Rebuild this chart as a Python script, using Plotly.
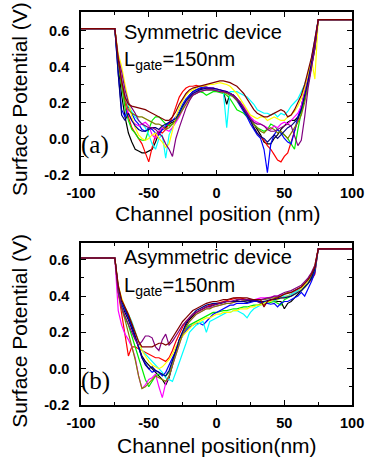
import plotly.graph_objects as go

# Channel positions (nm) shared by every potential profile
X_NM = [-100, -75, -72.5, -70, -67.5, -65, -62.5, -60, -57.5, -55, -52.5, -50,
        -47.5, -45, -42.5, -40, -37.5, -35, -32.5, -30, -27.5, -25, -22.5, -20,
        -17.5, -15, -12.5, -10, -7.5, -5, -2.5, 0, 2.5, 5, 7.5, 10, 12.5, 15,
        17.5, 20, 22.5, 25, 27.5, 30, 32.5, 35, 37.5, 40, 42.5, 45, 47.5, 50,
        52.5, 55, 57.5, 60, 62.5, 65, 67.5, 70, 72.5, 75, 100]

# Source / drain contact potentials (V)
SOURCE_LEVEL = 0.61
DRAIN_LEVEL = 0.66

SERIES_NAMES = ["black", "red", "green", "blue", "cyan", "magenta", "yellow",
                "olive", "navy", "purple", "wine"]
SERIES_COLORS = ["#000000", "#ff0000", "#00ee00", "#0000ff", "#00ffff", "#ff00ff",
                 "#ffff00", "#808000", "#000080", "#800080", "#800000"]

# Symmetric device, potential between -72.5 nm and 72.5 nm (V)
SYM_BLACK = [0.4, 0.24, 0.12, 0.03, -0.02, -0.06,
             -0.07, -0.08, -0.08, -0.07, -0.06, -0.02, 0.03, 0.05, 0.06, 0.08, 0.09, 0.1,
             0.13, 0.17, 0.21, 0.24, 0.26, 0.27, 0.275, 0.28, 0.28, 0.28, 0.275, 0.27,
             0.265, 0.26, 0.19, 0.25, 0.24, 0.22, 0.2, 0.17, 0.14, 0.11, 0.08,
             0.05, 0.02, -0.02, -0.03, -0.03, 0.0, 0.02, 0.05, 0.07, 0.09, 0.1, 0.1, 0.12,
             0.15, 0.22, 0.3, 0.4, 0.5]
SYM_RED = [0.44, 0.32, 0.2, 0.12, 0.06, 0.03,
           0.0, -0.03, -0.08, -0.13, -0.05, 0.02, 0.04, 0.03, 0.05, 0.08, 0.12, 0.18,
           0.23, 0.26, 0.28, 0.29, 0.29, 0.295, 0.29, 0.29, 0.285, 0.28, 0.27, 0.27,
           0.26, 0.26, 0.255, 0.25, 0.24, 0.22, 0.2, 0.17, 0.14, 0.1, 0.06,
           0.03, 0.01, -0.01, -0.04, -0.06, -0.09, -0.12, -0.13, -0.1, -0.08, -0.02, 0.05, 0.1,
           0.18, 0.25, 0.33, 0.42, 0.52]
SYM_GREEN = [0.42, 0.3, 0.17, 0.1, 0.05, 0.03,
             0.0, -0.01, -0.01, 0.05, 0.1, 0.12, 0.12, 0.1, 0.08, 0.07, 0.08, 0.1,
             0.13, 0.17, 0.2, 0.23, 0.25, 0.26, 0.26, 0.255, 0.24, 0.25, 0.26, 0.26,
             0.255, 0.25, 0.24, 0.22, 0.19, 0.16, 0.15, 0.14, 0.12, 0.1, 0.08,
             0.06, 0.05, 0.04, 0.05, 0.08, 0.07, 0.05, 0.03, 0.02, 0.0, -0.03, -0.06, 0.05,
             0.15, 0.24, 0.32, 0.42, 0.52]
SYM_BLUE = [0.36, 0.16, 0.12, 0.18, 0.14, 0.1,
            0.08, 0.05, 0.04, 0.06, 0.05, 0.03, 0.02, 0.05, 0.07, 0.09, 0.1, 0.12,
            0.15, 0.19, 0.22, 0.24, 0.26, 0.27, 0.28, 0.285, 0.285, 0.28, 0.28, 0.275,
            0.27, 0.26, 0.26, 0.25, 0.23, 0.21, 0.18, 0.15, 0.12, 0.08, 0.05,
            0.02, 0.0, -0.06, -0.19, -0.03, 0.02, 0.05, 0.03, 0.0, -0.02, -0.03, 0.04, 0.12,
            0.18, 0.26, 0.34, 0.44, 0.54]
SYM_CYAN = [0.4, 0.33, 0.24, 0.18, 0.15, 0.12,
            0.1, 0.08, 0.06, 0.02, -0.03, -0.06, 0.0, 0.02, -0.11, 0.02, 0.06, 0.1,
            0.14, 0.18, 0.21, 0.23, 0.25, 0.26, 0.27, 0.27, 0.27, 0.27, 0.27, 0.27,
            0.265, 0.26, 0.06, 0.26, 0.26, 0.26, 0.25, 0.24, 0.23, 0.21, 0.19,
            0.16, 0.15, 0.14, 0.14, 0.13, 0.14, 0.12, 0.14, 0.13, 0.15, 0.18, 0.2, 0.22,
            0.26, 0.3, 0.36, 0.44, 0.54]
SYM_MAGENTA = [0.42, 0.32, 0.22, 0.14, 0.1, 0.08,
               0.07, 0.08, 0.09, 0.07, 0.02, 0.0, 0.04, 0.06, 0.05, 0.04, 0.06, 0.09,
               0.12, 0.16, 0.2, 0.23, 0.25, 0.26, 0.27, 0.275, 0.28, 0.28, 0.28, 0.275,
               0.27, 0.265, 0.26, 0.25, 0.24, 0.22, 0.2, 0.18, 0.15, 0.12, 0.1,
               0.09, 0.08, 0.07, 0.06, 0.05, 0.07, 0.06, 0.08, 0.09, 0.08, 0.1, 0.12, 0.14,
               0.18, 0.25, 0.33, 0.42, 0.52]
SYM_YELLOW = [0.47, 0.4, 0.3, 0.2, 0.12, 0.06,
              0.02, 0.0, -0.01, 0.0, 0.02, 0.03, 0.0, -0.02, -0.05, -0.03, 0.05, 0.12,
              0.17, 0.21, 0.24, 0.26, 0.27, 0.28, 0.29, 0.29, 0.295, 0.3, 0.3, 0.305,
              0.31, 0.305, 0.3, 0.29, 0.27, 0.25, 0.22, 0.19, 0.16, 0.13, 0.12,
              0.11, 0.12, 0.12, 0.1, 0.11, 0.12, 0.11, 0.1, 0.1, 0.12, 0.13, 0.15, 0.18,
              0.22, 0.28, 0.36, 0.44, 0.33]
SYM_OLIVE = [0.42, 0.3, 0.21, 0.16, 0.14, 0.13,
             0.12, 0.12, 0.11, 0.1, 0.09, 0.08, 0.08, 0.07, 0.05, 0.06, 0.08, 0.1,
             0.13, 0.16, 0.19, 0.22, 0.24, 0.25, 0.26, 0.265, 0.27, 0.27, 0.27, 0.265,
             0.26, 0.255, 0.25, 0.24, 0.23, 0.21, 0.19, 0.16, 0.13, 0.1, 0.08,
             0.06, 0.04, 0.03, 0.05, 0.06, 0.05, 0.03, 0.04, 0.02, 0.0, 0.03, 0.06, 0.09,
             0.13, 0.2, 0.3, 0.4, 0.5]
SYM_NAVY = [0.36, 0.13, 0.1, 0.14, 0.1, 0.07,
            0.05, 0.04, 0.04, 0.05, 0.06, 0.06, 0.05, 0.07, 0.08, 0.09, 0.1, 0.11,
            0.14, 0.18, 0.21, 0.23, 0.25, 0.26, 0.27, 0.275, 0.28, 0.28, 0.28, 0.275,
            0.27, 0.265, 0.26, 0.25, 0.24, 0.22, 0.19, 0.16, 0.13, 0.1, 0.06,
            0.03, 0.01, 0.0, -0.02, 0.0, 0.02, 0.0, 0.02, 0.04, 0.06, 0.07, 0.09, 0.11,
            0.16, 0.24, 0.32, 0.42, 0.52]
SYM_PURPLE = [0.45, 0.37, 0.27, 0.2, 0.17, 0.14,
              0.1, 0.08, 0.07, 0.06, 0.06, 0.05, 0.03, 0.01, -0.03, -0.06, -0.1, 0.0,
              0.06, 0.12, 0.17, 0.21, 0.24, 0.25, 0.26, 0.265, 0.27, 0.27, 0.27, 0.265,
              0.26, 0.26, 0.255, 0.25, 0.24, 0.22, 0.2, 0.17, 0.14, 0.11, 0.09,
              0.08, 0.08, 0.07, 0.05, 0.04, 0.04, 0.05, 0.06, 0.07, 0.08, 0.07, 0.02, -0.04,
              -0.01, 0.12, 0.28, 0.4, 0.5]
SYM_WINE = [0.44, 0.32, 0.23, 0.19, 0.18, 0.175,
            0.17, 0.165, 0.16, 0.15, 0.14, 0.13, 0.12, 0.11, 0.1, 0.1, 0.12, 0.15,
            0.19, 0.22, 0.25, 0.27, 0.28, 0.285, 0.29, 0.295, 0.3, 0.305, 0.31, 0.315,
            0.32, 0.32, 0.315, 0.31, 0.3, 0.29, 0.27, 0.25, 0.22, 0.19, 0.16,
            0.14, 0.13, 0.12, 0.12, 0.13, 0.14, 0.15, 0.16, 0.15, 0.12, 0.13, 0.16, 0.2,
            0.24, 0.3, 0.37, 0.45, 0.55]

# Asymmetric device, potential between -72.5 nm and 72.5 nm (V)
ASYM_BLACK = [0.44, 0.36, 0.31, 0.27, 0.22, 0.17, 0.12, 0.07, 0.04, 0.02, 0.0, -0.02,
              -0.04, -0.06, -0.09, -0.05, 0.02, 0.1,
              0.16, 0.2, 0.24, 0.27, 0.29, 0.31, 0.32, 0.33, 0.34, 0.345, 0.35, 0.355,
              0.36, 0.365, 0.37, 0.37, 0.37, 0.375, 0.37, 0.37, 0.365, 0.37, 0.37,
              0.37, 0.37, 0.365, 0.37, 0.37, 0.375, 0.37, 0.37, 0.33, 0.36, 0.37, 0.39,
              0.41, 0.43, 0.45, 0.47, 0.5, 0.55]
ASYM_RED = [0.42, 0.3, 0.2, 0.07, 0.12, 0.12, 0.11, 0.1, 0.09, 0.08, 0.07, 0.06,
            0.06, 0.05, 0.04, 0.06, 0.1, 0.15,
            0.19, 0.23, 0.26, 0.28, 0.3, 0.31, 0.32, 0.33, 0.34, 0.35, 0.355, 0.36,
            0.365, 0.37, 0.375, 0.38, 0.385, 0.39, 0.39, 0.385, 0.38, 0.375, 0.37,
            0.37, 0.36, 0.35, 0.37, 0.375, 0.38, 0.385, 0.39, 0.395, 0.4, 0.41, 0.42,
            0.43, 0.44, 0.45, 0.47, 0.49, 0.52]
ASYM_GREEN = [0.43, 0.34, 0.28, 0.24, 0.18, 0.12, 0.06, 0.0, -0.06, -0.1, -0.07, -0.04,
              -0.03, -0.03, -0.04, -0.02, 0.03, 0.09,
              0.15, 0.19, 0.22, 0.24, 0.25, 0.26, 0.27, 0.28, 0.29, 0.3, 0.31, 0.31,
              0.315, 0.32, 0.32, 0.325, 0.33, 0.33, 0.335, 0.34, 0.34, 0.345, 0.35,
              0.35, 0.355, 0.36, 0.36, 0.365, 0.37, 0.36, 0.35, 0.38, 0.39, 0.4, 0.41,
              0.42, 0.43, 0.45, 0.47, 0.5, 0.54]
ASYM_BLUE = [0.44, 0.36, 0.32, 0.28, 0.23, 0.17, 0.11, 0.06, 0.03, 0.0, -0.02, -0.01,
             -0.02, -0.04, -0.02, 0.02, 0.06, 0.1,
             0.15, 0.18, 0.21, 0.23, 0.24, 0.25, 0.25, 0.24, 0.26, 0.28, 0.3, 0.31,
             0.32, 0.33, 0.34, 0.35, 0.35, 0.36, 0.36, 0.36, 0.36, 0.365, 0.37,
             0.37, 0.365, 0.36, 0.36, 0.355, 0.36, 0.34, 0.36, 0.37, 0.37, 0.38, 0.39,
             0.4, 0.42, 0.4, 0.44, 0.48, 0.53]
ASYM_CYAN = [0.43, 0.37, 0.33, 0.3, 0.26, 0.2, 0.15, 0.1, 0.08, 0.06, 0.04, 0.02,
             0.0, -0.02, -0.05, -0.06, -0.07, -0.02,
             0.03, 0.08, 0.14, 0.2, 0.22, 0.24, 0.25, 0.26, 0.2, 0.26, 0.27, 0.28,
             0.29, 0.3, 0.31, 0.31, 0.32, 0.32, 0.31, 0.3, 0.28, 0.31, 0.33,
             0.34, 0.35, 0.36, 0.37, 0.37, 0.375, 0.38, 0.39, 0.4, 0.4, 0.41, 0.42,
             0.43, 0.44, 0.46, 0.48, 0.51, 0.55]
ASYM_MAGENTA = [0.32, 0.24, 0.19, 0.16, 0.12, 0.06, -0.04, -0.11, -0.09, -0.06, -0.05, -0.03,
                -0.1, -0.16, -0.08, -0.04, 0.02, 0.08,
                0.14, 0.19, 0.23, 0.26, 0.28, 0.3, 0.31, 0.32, 0.33, 0.335, 0.34, 0.345,
                0.35, 0.355, 0.36, 0.36, 0.365, 0.37, 0.37, 0.375, 0.38, 0.38, 0.38,
                0.385, 0.39, 0.39, 0.39, 0.395, 0.4, 0.4, 0.41, 0.41, 0.42, 0.42, 0.43,
                0.44, 0.45, 0.47, 0.49, 0.52, 0.56]
ASYM_YELLOW = [0.46, 0.39, 0.34, 0.3, 0.25, 0.2, 0.15, 0.1, 0.07, 0.04, 0.02, 0.01,
               0.0, 0.01, 0.03, 0.05, 0.08, 0.12,
               0.15, 0.18, 0.2, 0.22, 0.24, 0.25, 0.26, 0.27, 0.28, 0.28, 0.29, 0.3,
               0.3, 0.31, 0.31, 0.31, 0.32, 0.32, 0.33, 0.33, 0.33, 0.34, 0.34,
               0.35, 0.35, 0.36, 0.37, 0.37, 0.38, 0.38, 0.39, 0.39, 0.4, 0.4, 0.41,
               0.42, 0.44, 0.46, 0.48, 0.52, 0.57]
ASYM_OLIVE = [0.42, 0.33, 0.27, 0.2, 0.13, 0.05, -0.04, -0.11, -0.1, -0.08, -0.06, -0.04,
              -0.05, -0.06, -0.07, -0.04, 0.02, 0.08,
              0.14, 0.19, 0.23, 0.26, 0.28, 0.3, 0.31, 0.32, 0.33, 0.33, 0.34, 0.345,
              0.35, 0.355, 0.36, 0.36, 0.365, 0.37, 0.37, 0.375, 0.375, 0.38, 0.38,
              0.38, 0.38, 0.38, 0.385, 0.39, 0.39, 0.395, 0.4, 0.41, 0.42, 0.42, 0.43,
              0.44, 0.45, 0.47, 0.49, 0.51, 0.55]
ASYM_NAVY = [0.45, 0.37, 0.33, 0.29, 0.24, 0.18, 0.12, 0.06, 0.02, 0.0, 0.01, -0.01,
             -0.02, -0.03, -0.04, -0.01, 0.04, 0.1,
             0.16, 0.21, 0.25, 0.28, 0.3, 0.32, 0.33, 0.34, 0.35, 0.355, 0.36, 0.36,
             0.36, 0.365, 0.37, 0.37, 0.37, 0.37, 0.37, 0.37, 0.375, 0.375, 0.375,
             0.375, 0.37, 0.37, 0.375, 0.38, 0.38, 0.385, 0.39, 0.39, 0.395, 0.4, 0.41,
             0.42, 0.43, 0.45, 0.47, 0.5, 0.55]
ASYM_PURPLE = [0.42, 0.34, 0.29, 0.24, 0.2, 0.16, 0.13, 0.15, 0.18, 0.18, 0.17, 0.12,
               0.1, 0.16, 0.19, 0.13, 0.15, 0.18,
               0.21, 0.24, 0.26, 0.28, 0.3, 0.31, 0.32, 0.33, 0.34, 0.34, 0.35, 0.355,
               0.36, 0.365, 0.37, 0.37, 0.375, 0.38, 0.38, 0.38, 0.38, 0.38, 0.38,
               0.38, 0.38, 0.385, 0.39, 0.39, 0.4, 0.4, 0.41, 0.42, 0.425, 0.43, 0.44,
               0.45, 0.46, 0.48, 0.5, 0.53, 0.57]
ASYM_WINE = [0.46, 0.38, 0.34, 0.3, 0.25, 0.2, 0.15, 0.12, 0.12, 0.12, 0.12, 0.13,
             0.14, 0.14, 0.13, 0.14, 0.17, 0.2,
             0.23, 0.26, 0.28, 0.3, 0.32, 0.33, 0.34, 0.35, 0.36, 0.365, 0.37, 0.37,
             0.375, 0.38, 0.38, 0.385, 0.39, 0.39, 0.39, 0.39, 0.39, 0.385, 0.38,
             0.38, 0.38, 0.34, 0.37, 0.38, 0.385, 0.39, 0.4, 0.41, 0.415, 0.42, 0.43,
             0.44, 0.45, 0.47, 0.49, 0.52, 0.56]

SYM_SERIES = [SYM_BLACK, SYM_RED, SYM_GREEN, SYM_BLUE, SYM_CYAN, SYM_MAGENTA,
              SYM_YELLOW, SYM_OLIVE, SYM_NAVY, SYM_PURPLE, SYM_WINE]
ASYM_SERIES = [ASYM_BLACK, ASYM_RED, ASYM_GREEN, ASYM_BLUE, ASYM_CYAN, ASYM_MAGENTA,
               ASYM_YELLOW, ASYM_OLIVE, ASYM_NAVY, ASYM_PURPLE, ASYM_WINE]

X_TICKS = [-100, -50, 0, 50, 100]
X_TICK_TEXT = ["-100", "-50", "0", "50", "100"]
Y_TICKS = [-0.2, 0.0, 0.2, 0.4, 0.6]
Y_TICK_TEXT = ["-0.2", "0.0", "0.2", "0.4", "0.6"]

W, H = 379, 467
SANS = "Liberation Sans, Arial, sans-serif"
SERIF = "Liberation Serif, Times New Roman, serif"


def px_x(p):
    return p / W


def px_y(p):
    return 1 - p / H


fig = go.Figure()

for series, axis_suffix in ((SYM_SERIES, ""), (ASYM_SERIES, "2")):
    for name, color, body in zip(SERIES_NAMES, SERIES_COLORS, series):
        profile = [SOURCE_LEVEL, SOURCE_LEVEL] + body + [DRAIN_LEVEL, DRAIN_LEVEL]
        fig.add_trace(go.Scatter(
            x=X_NM, y=profile, mode="lines", name=name, showlegend=False,
            line=dict(color=color, width=1.2),
            xaxis="x" + axis_suffix, yaxis="y" + axis_suffix,
        ))

tick_font = dict(family=SANS, size=14.5, color="black", weight="bold")

common_x = dict(
    range=[-100, 100], tickmode="array", tickvals=X_TICKS, ticktext=X_TICK_TEXT,
    ticks="inside", ticklen=5, tickwidth=1.2, tickcolor="black",
    minor=dict(tickmode="linear", tick0=-100, dtick=25, ticks="inside",
               ticklen=3, tickwidth=1.2, tickcolor="black"),
    showline=True, linecolor="black", linewidth=1.5, mirror="allticks",
    showgrid=False, zeroline=False, tickfont=tick_font, ticklabelstandoff=4,
)
common_y = dict(
    tickmode="array", tickvals=Y_TICKS, ticktext=Y_TICK_TEXT,
    ticks="inside", ticklen=5, tickwidth=1.2, tickcolor="black",
    minor=dict(tickmode="linear", tick0=-0.2, dtick=0.1, ticks="inside",
               ticklen=3, tickwidth=1.2, tickcolor="black"),
    showline=True, linecolor="black", linewidth=1.5, mirror="allticks",
    showgrid=False, zeroline=False, tickfont=tick_font, ticklabelstandoff=7,
)

fig.update_layout(
    width=W, height=H,
    margin=dict(l=0, r=0, t=0, b=0),
    paper_bgcolor="white", plot_bgcolor="white",
    xaxis=dict(common_x, domain=[px_x(71), px_x(363)], anchor="y"),
    yaxis=dict(common_y, domain=[px_y(177.5), px_y(12.7)], range=[-0.2, 0.7], anchor="x"),
    xaxis2=dict(common_x, domain=[px_x(71), px_x(363)], anchor="y2"),
    yaxis2=dict(common_y, domain=[px_y(412), px_y(247.7)], range=[-0.2, 0.69], anchor="x2"),
)

annotations = [
    # axis titles
    dict(text="Surface Potential (V)", x=px_x(5), y=px_y(101), textangle=-90,
         font=dict(family=SANS, size=21, color="black")),
    dict(text="Surface Potential (V)", x=px_x(5), y=px_y(337), textangle=-90,
         font=dict(family=SANS, size=21, color="black")),
    dict(text="Channel position (nm)", x=px_x(218), y=px_y(217),
         font=dict(family=SANS, size=21, color="black")),
    dict(text="Channel position(nm)", x=px_x(218), y=px_y(453),
         font=dict(family=SANS, size=21, color="black")),
    # in-plot labels
    dict(text="Symmetric device", x=px_x(115), y=px_y(33), xanchor="left",
         font=dict(family=SANS, size=20, color="black")),
    dict(text="L<sub>gate</sub>=150nm", x=px_x(115), y=px_y(62), xanchor="left",
         font=dict(family=SANS, size=20, color="black")),
    dict(text="(a)", x=px_x(69), y=px_y(148), xanchor="left",
         font=dict(family=SERIF, size=25, color="black")),
    dict(text="Asymmetric device", x=px_x(115), y=px_y(261), xanchor="left",
         font=dict(family=SANS, size=20, color="black")),
    dict(text="L<sub>gate</sub>=150nm", x=px_x(115), y=px_y(291), xanchor="left",
         font=dict(family=SANS, size=20, color="black")),
    dict(text="(b)", x=px_x(69), y=px_y(388), xanchor="left",
         font=dict(family=SERIF, size=25, color="black")),
]
for a in annotations:
    a.setdefault("xanchor", "center")
    a.update(xref="paper", yref="paper", yanchor="middle", showarrow=False)
fig.update_layout(annotations=annotations)

fig.write_html("out.html")
